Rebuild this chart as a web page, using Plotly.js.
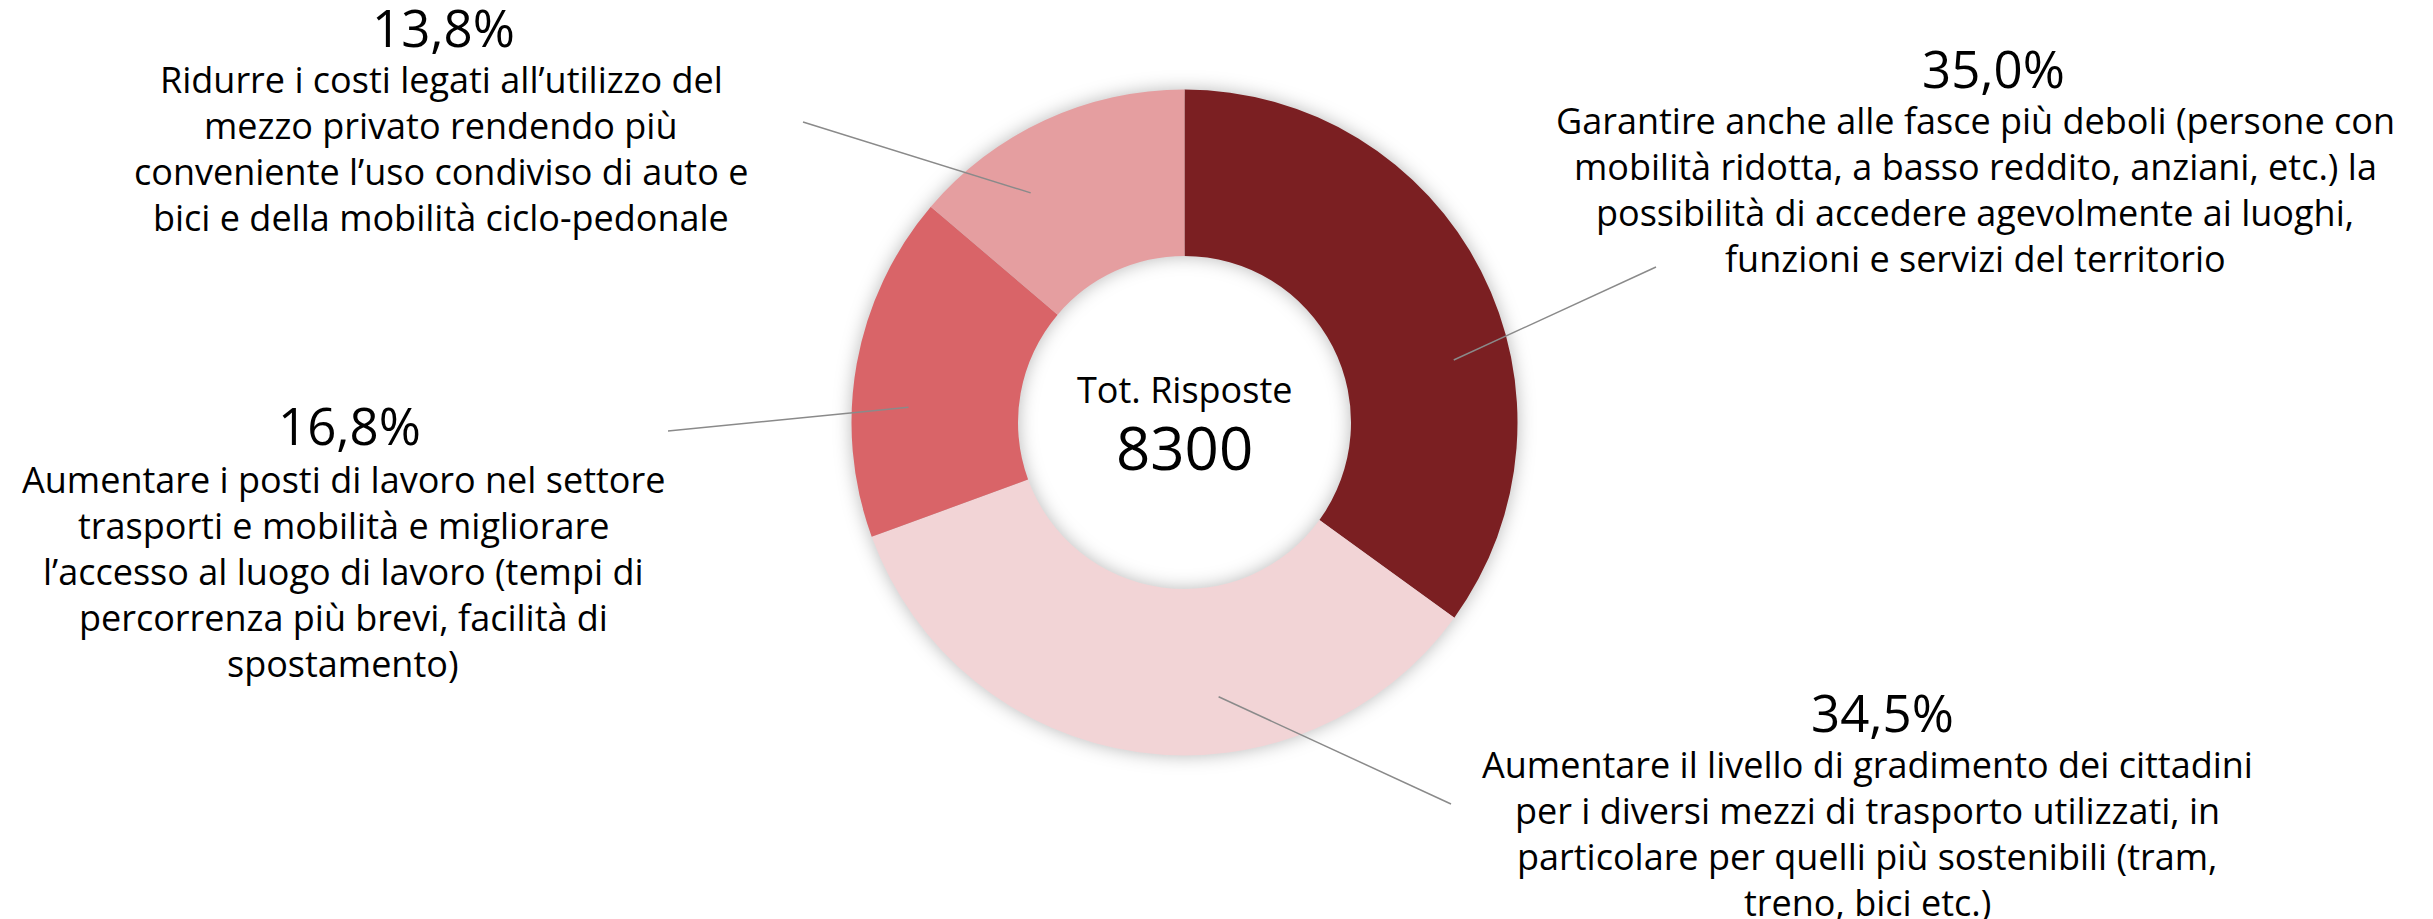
<!DOCTYPE html>
<html><head><meta charset="utf-8">
<script src="https://cdn.plot.ly/plotly-3.0.1.min.js"></script>
<style>
html,body{margin:0;padding:0;background:#fff;overflow:hidden;}
#chart{width:2433px;height:919px;}
.pielayer .trace{filter:drop-shadow(0 0 9px rgba(0,0,0,0.28));}
</style></head><body><div id="chart"></div>
<script>
// ---- data ----
const categories = [
  'Garantire anche alle fasce più deboli (persone con mobilità ridotta, a basso reddito, anziani, etc.) la possibilità di accedere agevolmente ai luoghi, funzioni e servizi del territorio',
  'Aumentare il livello di gradimento dei cittadini per i diversi mezzi di trasporto utilizzati, in particolare per quelli più sostenibili (tram, treno, bici etc.)',
  'Aumentare i posti di lavoro nel settore trasporti e mobilità e migliorare l’accesso al luogo di lavoro (tempi di percorrenza più brevi, facilità di spostamento)',
  'Ridurre i costi legati all’utilizzo del mezzo privato rendendo più conveniente l’uso condiviso di auto e bici e della mobilità ciclo-pedonale'
];
const values = [35.0, 34.5, 16.8, 13.8];
const labelLines = [
  ['Garantire anche alle fasce più deboli (persone con', 'mobilità ridotta, a basso reddito, anziani, etc.) la', 'possibilità di accedere agevolmente ai luoghi,', 'funzioni e servizi del territorio'],
  ['Aumentare il livello di gradimento dei cittadini', 'per i diversi mezzi di trasporto utilizzati, in', 'particolare per quelli più sostenibili (tram,', 'treno, bici etc.)'],
  ['Aumentare i posti di lavoro nel settore', 'trasporti e mobilità e migliorare', 'l’accesso al luogo di lavoro (tempi di', 'percorrenza più brevi, facilità di', 'spostamento)'],
  ['Ridurre i costi legati all’utilizzo del', 'mezzo privato rendendo più', 'conveniente l’uso condiviso di auto e', 'bici e della mobilità ciclo-pedonale']
];
const centerTitle = 'Tot. Risposte';
const totalResponses = 8300;

// ---- styles / layout positions ----
const colors = ['#7B1F22', '#F2D4D6', '#D96468', '#E59EA0'];
const W = 2433, H = 919;
const cx = 1184.5, cy = 422.5, R = 333;
const FONT = 'Open Sans, Noto Sans, sans-serif';
const pctSize = 51, bodySize = 36, lineGap = 46;
// label block placement: [pct center x, pct baseline y, body center x, first body baseline y]
const labelPos = [
  [1993, 88, 1975, 134],
  [1882, 732, 1867, 778],
  [349, 445, 343, 493],
  [443, 47, 441, 93]
];
const leaderEnd = [[1656, 267], [1451, 804], [668, 431], [803, 122]];
const leaderNudge = [14, -15, -7, -9];
const leaderR = 0.83;

const fmtPct = v => v.toFixed(1).replace('.', ',') + '%';
const px = x => x / W, py = y => 1 - y / H;
const centerY = (base, fs) => base - 0.388 * fs;

const annotations = [];
const shapes = [];
const total = values.reduce((a, b) => a + b, 0);
let cum = 0;
values.forEach((v, i) => {
  const mid = (cum + v / 2) / total * 360;
  cum += v;
  const a = (mid + leaderNudge[i]) * Math.PI / 180;
  const sx = cx + leaderR * R * Math.sin(a), sy = cy - leaderR * R * Math.cos(a);
  shapes.push({type: 'line', xref: 'paper', yref: 'paper',
    x0: px(sx), y0: py(sy), x1: px(leaderEnd[i][0]), y1: py(leaderEnd[i][1]),
    line: {color: '#8a8a8a', width: 1.5}});
  const p = labelPos[i];
  annotations.push({xref: 'paper', yref: 'paper', x: px(p[0]), y: py(centerY(p[1], pctSize)),
    xanchor: 'center', yanchor: 'middle', showarrow: false, text: fmtPct(v),
    font: {family: FONT, size: pctSize, color: '#000'}});
  labelLines[i].forEach((ln, k) => {
    annotations.push({xref: 'paper', yref: 'paper', x: px(p[2]), y: py(centerY(p[3] + k * lineGap, bodySize)),
      xanchor: 'center', yanchor: 'middle', showarrow: false, text: ln,
      font: {family: FONT, size: bodySize, color: '#000'}});
  });
});
annotations.push({xref: 'paper', yref: 'paper', x: px(cx), y: py(centerY(403, 36)),
  xanchor: 'center', yanchor: 'middle', showarrow: false, text: centerTitle,
  font: {family: FONT, size: 36, color: '#000'}});
annotations.push({xref: 'paper', yref: 'paper', x: px(cx), y: py(centerY(470, 60)),
  xanchor: 'center', yanchor: 'middle', showarrow: false, text: String(totalResponses),
  font: {family: FONT, size: 60, color: '#000'}});

const trace = {
  type: 'pie', values: values, labels: categories, sort: false, direction: 'clockwise', rotation: 0,
  hole: 0.5, textinfo: 'none', hoverinfo: 'none',
  marker: {colors: colors, line: {width: 0}},
  domain: {x: [px(cx - R), px(cx + R)], y: [py(cy + R), py(cy - R)]}
};

Plotly.newPlot('chart', [trace], {
  width: W, height: H, margin: {l: 0, r: 0, t: 0, b: 0},
  paper_bgcolor: '#fff', plot_bgcolor: '#fff', showlegend: false,
  annotations: annotations, shapes: shapes
}, {staticPlot: true});
</script></body></html>
